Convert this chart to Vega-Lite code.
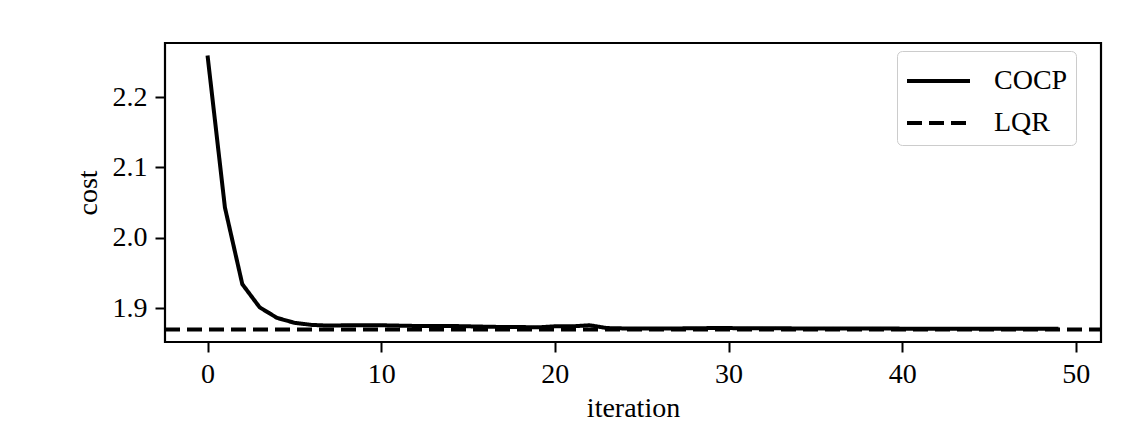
{
  "$schema": "https://vega.github.io/schema/vega-lite/v6.json",
  "width": 936,
  "height": 299,
  "autosize": {"type": "none"},
  "padding": {"left": 165, "top": 43, "right": 35, "bottom": 104},
  "background": "white",
  "config": {
    "font": "Liberation Serif",
    "view": {"stroke": "black", "strokeWidth": 2.2},
    "axis": {
      "grid": false,
      "domain": false,
      "tickColor": "black",
      "tickWidth": 2,
      "tickSize": 10,
      "labelPadding": 8,
      "labelFontSize": 28,
      "labelColor": "black",
      "titleFontSize": 28,
      "titleFontWeight": "normal",
      "titleColor": "black",
      "labelFont": "Liberation Serif",
      "titleFont": "Liberation Serif"
    }
  },
  "data": {
    "values": [
      {"iteration": 0, "cost": 2.259, "method": "COCP"},
      {"iteration": 1, "cost": 2.043, "method": "COCP"},
      {"iteration": 2, "cost": 1.934, "method": "COCP"},
      {"iteration": 3, "cost": 1.901, "method": "COCP"},
      {"iteration": 4, "cost": 1.886, "method": "COCP"},
      {"iteration": 5, "cost": 1.879, "method": "COCP"},
      {"iteration": 6, "cost": 1.876, "method": "COCP"},
      {"iteration": 7, "cost": 1.875, "method": "COCP"},
      {"iteration": 8, "cost": 1.8755, "method": "COCP"},
      {"iteration": 9, "cost": 1.8755, "method": "COCP"},
      {"iteration": 10, "cost": 1.8755, "method": "COCP"},
      {"iteration": 11, "cost": 1.875, "method": "COCP"},
      {"iteration": 12, "cost": 1.8745, "method": "COCP"},
      {"iteration": 13, "cost": 1.8745, "method": "COCP"},
      {"iteration": 14, "cost": 1.8745, "method": "COCP"},
      {"iteration": 15, "cost": 1.874, "method": "COCP"},
      {"iteration": 16, "cost": 1.8735, "method": "COCP"},
      {"iteration": 17, "cost": 1.873, "method": "COCP"},
      {"iteration": 18, "cost": 1.873, "method": "COCP"},
      {"iteration": 19, "cost": 1.8725, "method": "COCP"},
      {"iteration": 20, "cost": 1.874, "method": "COCP"},
      {"iteration": 21, "cost": 1.874, "method": "COCP"},
      {"iteration": 22, "cost": 1.8755, "method": "COCP"},
      {"iteration": 23, "cost": 1.8715, "method": "COCP"},
      {"iteration": 24, "cost": 1.871, "method": "COCP"},
      {"iteration": 25, "cost": 1.871, "method": "COCP"},
      {"iteration": 26, "cost": 1.871, "method": "COCP"},
      {"iteration": 27, "cost": 1.871, "method": "COCP"},
      {"iteration": 28, "cost": 1.8712, "method": "COCP"},
      {"iteration": 29, "cost": 1.8715, "method": "COCP"},
      {"iteration": 30, "cost": 1.8715, "method": "COCP"},
      {"iteration": 31, "cost": 1.8712, "method": "COCP"},
      {"iteration": 32, "cost": 1.8712, "method": "COCP"},
      {"iteration": 33, "cost": 1.8712, "method": "COCP"},
      {"iteration": 34, "cost": 1.871, "method": "COCP"},
      {"iteration": 35, "cost": 1.871, "method": "COCP"},
      {"iteration": 36, "cost": 1.871, "method": "COCP"},
      {"iteration": 37, "cost": 1.8708, "method": "COCP"},
      {"iteration": 38, "cost": 1.8708, "method": "COCP"},
      {"iteration": 39, "cost": 1.8708, "method": "COCP"},
      {"iteration": 40, "cost": 1.8707, "method": "COCP"},
      {"iteration": 41, "cost": 1.8707, "method": "COCP"},
      {"iteration": 42, "cost": 1.8707, "method": "COCP"},
      {"iteration": 43, "cost": 1.8707, "method": "COCP"},
      {"iteration": 44, "cost": 1.8706, "method": "COCP"},
      {"iteration": 45, "cost": 1.8706, "method": "COCP"},
      {"iteration": 46, "cost": 1.8706, "method": "COCP"},
      {"iteration": 47, "cost": 1.8706, "method": "COCP"},
      {"iteration": 48, "cost": 1.8706, "method": "COCP"},
      {"iteration": 49, "cost": 1.8706, "method": "COCP"},
      {"iteration": -2.45, "cost": 1.8695, "method": "LQR"},
      {"iteration": 51.45, "cost": 1.8695, "method": "LQR"}
    ]
  },
  "mark": {"type": "line", "color": "black", "strokeWidth": 4, "clip": true, "strokeCap": "butt"},
  "encoding": {
    "x": {
      "field": "iteration",
      "type": "quantitative",
      "scale": {"domain": [-2.45, 51.45], "nice": false, "zero": false},
      "axis": {"values": [0, 10, 20, 30, 40, 50], "title": "iteration", "titlePadding": 6}
    },
    "y": {
      "field": "cost",
      "type": "quantitative",
      "scale": {"domain": [1.8517, 2.2768], "nice": false, "zero": false},
      "axis": {"values": [1.9, 2.0, 2.1, 2.2], "format": ".1f", "title": "cost", "titlePadding": 10}
    },
    "strokeDash": {
      "field": "method",
      "type": "nominal",
      "scale": {"domain": ["COCP", "LQR"], "range": [[1, 0], [15, 7]]},
      "legend": {
        "title": null,
        "orient": "none",
        "legendX": 732,
        "legendY": 8,
        "symbolType": "M-1,0H2.15",
        "symbolSize": 1600,
        "symbolStrokeWidth": 4,
        "symbolStrokeColor": "black",
        "symbolFillColor": "transparent",
        "labelFontSize": 28,
        "labelColor": "black",
        "labelFont": "Liberation Serif",
        "labelOffset": 45,
        "rowPadding": 6,
        "padding": 8,
        "strokeColor": "#cccccc",
        "fillColor": "white",
        "cornerRadius": 5
      }
    }
  }
}
